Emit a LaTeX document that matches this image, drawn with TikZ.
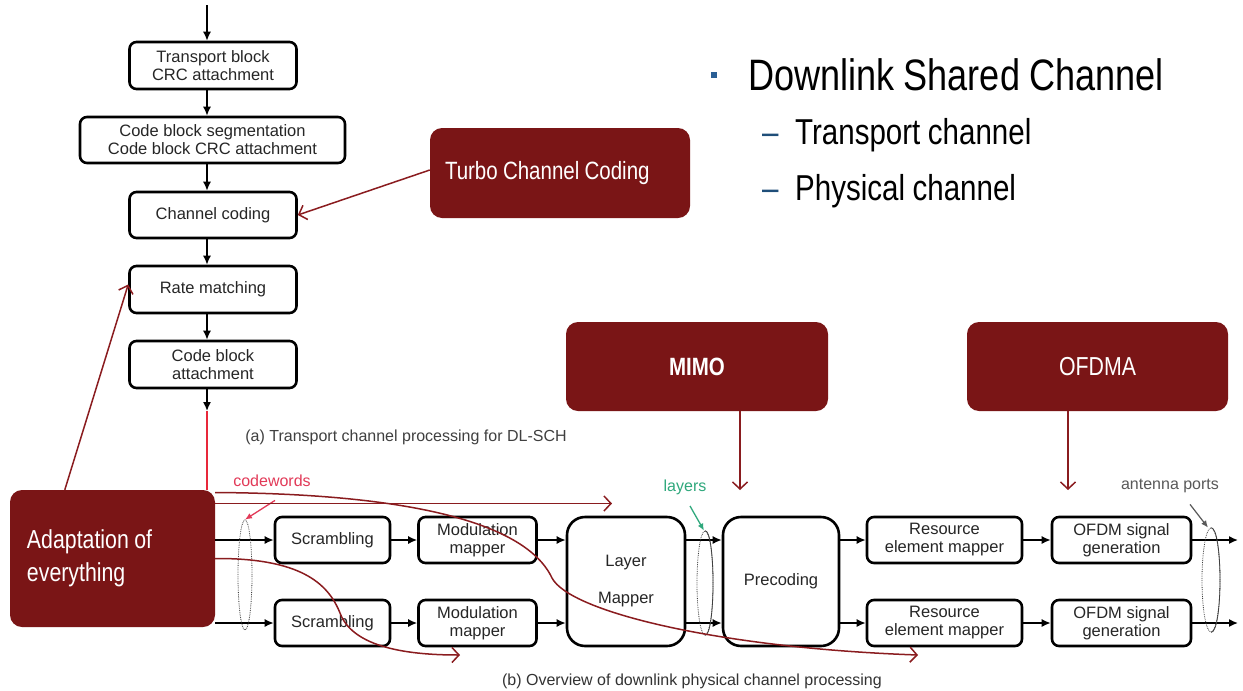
\documentclass[tikz,border=0pt]{standalone}
\usepackage{fontspec}
\setmainfont{Liberation Sans}
\newfontfamily\narrowsf[FakeStretch=0.82,WordSpace=0.92]{Liberation Sans}
\usetikzlibrary{arrows.meta,shapes.geometric,calc}
\definecolor{slidered}{HTML}{7A1516}
\definecolor{hintred}{HTML}{8A1C1F}
\definecolor{cwred}{HTML}{E23A58}
\definecolor{linered}{HTML}{E8283A}
\definecolor{layergreen}{HTML}{2FA87C}
\definecolor{bulletblue}{HTML}{2A5F95}
\definecolor{dashblue}{HTML}{1F4E79}
\begin{document}
\begin{tikzpicture}[x=1pt,y=-1pt,
  stage/.style={draw=black, line width=2.6pt, rounded corners=7pt, fill=white,
    text=black!85, font=\fontsize{16.5}{18}\selectfont, align=center, inner sep=0pt},
  bigstage/.style={stage, rounded corners=18pt},
  callout/.style={fill=slidered, rounded corners=12pt, text=white, inner sep=0pt},
  flow/.style={line width=1.5pt, -{Latex[length=9pt,width=8pt]}},
  hint/.style={draw=hintred, line width=1.5pt, -{Straight Barb[length=7pt,width=15pt]}},
  group/.style={draw=black!75, ellipse, densely dotted, line width=0.8pt, inner sep=0pt},
  arc/.style={draw=black!75, line width=0.8pt},
  note/.style={font=\fontsize{16}{18}\selectfont},
]
\useasboundingbox (0,0) rectangle (1243,691);
\fill[white] (0,0) rectangle (1243,691);

% ---------- transport channel chain ----------
\node[stage, minimum width=167pt, minimum height=47pt] (tb)  at (213,65.5)  {Transport block\\CRC attachment};
\node[stage, minimum width=265pt, minimum height=46pt] (cbs) at (212.5,140) {Code block segmentation\\Code block CRC attachment};
\node[stage, minimum width=167pt, minimum height=46pt] (cc)  at (213,215)   {Channel coding};
\node[stage, minimum width=167pt, minimum height=47pt] (rm)  at (213,289.5) {Rate matching};
\node[stage, minimum width=167pt, minimum height=47pt] (cba) at (213,364.5) {Code block\\attachment};

\coordinate (inTop) at (207,5);
\coordinate (cbaOut) at (207,411);
\draw[flow] (inTop) -- (inTop |- tb.north);
\draw[flow] ([xshift=-6pt]tb.south) -- ([xshift=-6pt]tb.south |- cbs.north);
\draw[flow] ([xshift=-5.5pt]cbs.south) -- ([xshift=-6pt]cc.north);
\draw[flow] ([xshift=-6pt]cc.south) -- ([xshift=-6pt]rm.north);
\draw[flow] ([xshift=-6pt]rm.south) -- ([xshift=-6pt]cba.north);
\draw[flow] ([xshift=-6pt]cba.south) -- (cbaOut);

\node[note, text=black!75] (capa) at (406,437) {(a) Transport channel processing for DL-SCH};

% ---------- heading ----------
\fill[bulletblue] (711,72) rectangle (717,78);
\node[anchor=base west, inner sep=0pt, font=\narrowsf\fontsize{44}{50}\selectfont] (title) at (748,90) {Downlink Shared Channel};
\node[anchor=base west, inner sep=0pt, text=dashblue, font=\narrowsf\fontsize{36}{40}\selectfont] (d1) at (762,144) {–};
\node[anchor=base west, inner sep=0pt, font=\narrowsf\fontsize{36}{40}\selectfont] (sub1) at (795,144) {Transport channel};
\node[anchor=base west, inner sep=0pt, text=dashblue, font=\narrowsf\fontsize{36}{40}\selectfont] (d2) at (762,200) {–};
\node[anchor=base west, inner sep=0pt, font=\narrowsf\fontsize{36}{40}\selectfont] (sub2) at (795,200) {Physical channel};

% ---------- callouts ----------
\node[callout, minimum width=260pt, minimum height=90pt,
      font=\narrowsf\fontsize{25}{30}\selectfont] (turbo) at (560,173)
      {\parbox{230pt}{\raggedright Turbo Channel Coding}};
\node[callout, minimum width=262pt, minimum height=89pt,
      font=\narrowsf\bfseries\fontsize{25}{30}\selectfont] (mimo) at (697,366.5) {MIMO};
\node[callout, minimum width=261pt, minimum height=89pt,
      font=\narrowsf\fontsize{26}{30}\selectfont] (ofdma) at (1097.5,366.5) {OFDMA};

% ---------- physical channel chain ----------
\node[stage, minimum width=115pt, minimum height=46pt] (scr1) at (332.5,540) {Scrambling};
\node[stage, minimum width=115pt, minimum height=46pt] (scr2) at (332.5,623) {Scrambling};
\node[stage, minimum width=118pt, minimum height=46pt] (mod1) at (477.5,540) {Modulation\\mapper};
\node[stage, minimum width=118pt, minimum height=46pt] (mod2) at (477.5,623) {Modulation\\mapper};
\node[bigstage, minimum width=118pt, minimum height=129pt] (lm) at (626,581.5) {Layer\\[19pt]Mapper};
\node[bigstage, minimum width=116pt, minimum height=129pt] (pre) at (781,581.5) {Precoding};
\node[stage, minimum width=155pt, minimum height=46pt] (rem1) at (944.5,540) {Resource\\element mapper};
\node[stage, minimum width=155pt, minimum height=46pt] (rem2) at (944.5,623) {Resource\\element mapper};
\node[stage, minimum width=139pt, minimum height=46pt] (ofdm1) at (1121.5,540) {OFDM signal\\generation};
\node[stage, minimum width=139pt, minimum height=46pt] (ofdm2) at (1121.5,623) {OFDM signal\\generation};

\node[callout, minimum width=205pt, minimum height=137pt,
      font=\narrowsf\fontsize{26}{33}\selectfont] (adapt) at (112.5,558.5)
      {\parbox{171pt}{\raggedright Adaptation of\\everything}};

\coordinate (out1) at (1238,540);
\coordinate (out2) at (1238,623);
\draw[flow] (adapt.east |- scr1) -- (scr1);
\draw[flow] (adapt.east |- scr2) -- (scr2);
\draw[flow] (scr1) -- (mod1);
\draw[flow] (scr2) -- (mod2);
\draw[flow] (mod1) -- (mod1 -| lm.west);
\draw[flow] (mod2) -- (mod2 -| lm.west);
\draw[flow] (lm.east |- mod1) -- (pre.west |- mod1);
\draw[flow] (lm.east |- mod2) -- (pre.west |- mod2);
\draw[flow] (pre.east |- rem1) -- (rem1);
\draw[flow] (pre.east |- rem2) -- (rem2);
\draw[flow] (rem1) -- (ofdm1);
\draw[flow] (rem2) -- (ofdm2);
\draw[flow] (ofdm1) -- (out1);
\draw[flow] (ofdm2) -- (out2);

% grouping ellipses
\node[group, minimum width=14pt, minimum height=110pt] (cw) at (245,575) {};
\node[group, minimum width=16pt, minimum height=104pt] (lay) at (705,583) {};
\draw[arc] (lay.north) .. controls ([xshift=10.7pt]lay.north) and ([xshift=10.7pt]lay.south) .. (lay.south);
\node[group, minimum width=18pt, minimum height=104pt] (ant) at (1211,580) {};
\draw[arc] (ant.north) .. controls ([xshift=12pt]ant.north) and ([xshift=12pt]ant.south) .. (ant.south);

% labels of the groups
\node[note, text=cwred] (cwlab) at (272,481) {codewords};
\draw[cwred, line width=1.3pt, -{Latex[length=7pt,width=6pt]}] ([shift={(3pt,-10pt)}]cwlab.south) -- (cw.north);
\node[note, text=layergreen] (laylab) at (685,487) {layers};
\draw[layergreen, line width=1.3pt, -{Latex[length=7pt,width=6pt]}] ([shift={(5pt,-8pt)}]laylab.south) -- ([xshift=-1pt]lay.north);
\node[note, text=black!65] (antlab) at (1170,486) {antenna ports};
\draw[black!65, line width=1.2pt, -{Latex[length=7pt,width=6pt]}] ([shift={(20pt,-8pt)}]antlab.south) -- ([xshift=-3pt]ant.north);

\node[note, text=black!80] (capb) at (692,681) {(b) Overview of downlink physical channel processing};

% ---------- hints from the callouts ----------
\draw[linered, line width=1.5pt] (cbaOut) -- (cbaOut |- adapt.north);
\draw[hint] ([yshift=3pt]turbo.west) -- (cc.east);
\draw[hint] ([xshift=55pt]adapt.north west) -- ([yshift=5pt]rm.west);
\coordinate (mimoTip) at (740,490);
\coordinate (ofdmaTip) at (1068,490);
\draw[hint] (mimo.south -| mimoTip) -- (mimoTip);
\draw[hint] (ofdma.south -| ofdmaTip) -- (ofdmaTip);
\coordinate (cwTip) at (612,503.5);
\coordinate (layTip) at (918,655);
\coordinate (scrTip) at (460,655);
\draw[hint] ([yshift=55pt]adapt.east) -- (cwTip);
\draw[hint] ([yshift=66pt]adapt.east) .. controls (450,494) and (532,535) .. (552,578)
   .. controls (570,612) and (720,648) .. (layTip);
\draw[hint] (adapt.east) .. controls (300,558) and (328,583) .. (340,613)
   .. controls (352,645) and (400,655) .. (scrTip);
\end{tikzpicture}
\end{document}
